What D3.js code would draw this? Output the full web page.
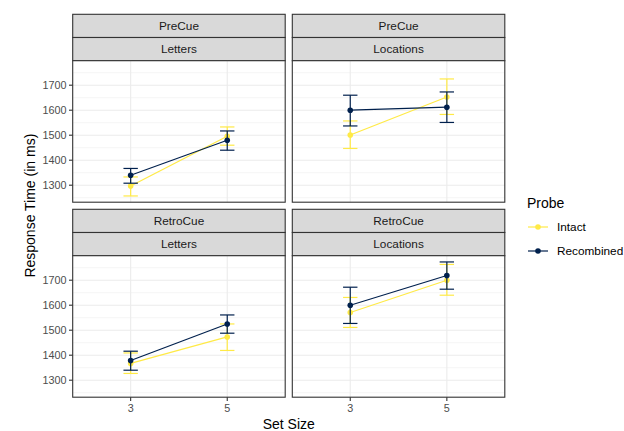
<!DOCTYPE html>
<html>
<head>
<meta charset="utf-8">
<script src="https://cdn.jsdelivr.net/npm/d3@7"></script>
<style>
  body { margin: 0; background: #fff; }
  text { font-family: "Liberation Sans", Arial, sans-serif; }
</style>
</head>
<body>
<div id="chart"></div>
<script>
// data
const cues = ["PreCue", "RetroCue"];
const stimuli = ["Letters", "Locations"];
const setSizes = ["3", "5"];
const probes = ["Intact", "Recombined"];
const yTicks = [1300, 1400, 1500, 1600, 1700];

// rows: cue, stimulus, probe, set size, mean, lower, upper
const means = [
  ["PreCue", "Letters", "Intact", "3", 1297, 1257, 1333],
  ["PreCue", "Letters", "Intact", "5", 1496, 1460, 1533],
  ["PreCue", "Letters", "Recombined", "3", 1340, 1308, 1367],
  ["PreCue", "Letters", "Recombined", "5", 1480, 1440, 1517],
  ["PreCue", "Locations", "Intact", "3", 1501, 1447, 1557],
  ["PreCue", "Locations", "Intact", "5", 1653, 1583, 1725],
  ["PreCue", "Locations", "Recombined", "3", 1600, 1537, 1660],
  ["PreCue", "Locations", "Recombined", "5", 1612, 1551, 1673],
  ["RetroCue", "Letters", "Intact", "3", 1367, 1327, 1409],
  ["RetroCue", "Letters", "Intact", "5", 1473, 1419, 1525],
  ["RetroCue", "Letters", "Recombined", "3", 1379, 1340, 1416],
  ["RetroCue", "Letters", "Recombined", "5", 1525, 1488, 1561],
  ["RetroCue", "Locations", "Intact", "3", 1571, 1511, 1631],
  ["RetroCue", "Locations", "Intact", "5", 1700, 1640, 1763],
  ["RetroCue", "Locations", "Recombined", "3", 1600, 1527, 1672],
  ["RetroCue", "Locations", "Recombined", "5", 1719, 1664, 1773]
];

const probeColors = ["#FFEA46", "#00204D"];

const width = 624, height = 431;
const panelLeft = [72.7, 292.3];
const panelW = 212.5;
const stripTop = [14.3, 209.3];
const stripH = 23.2;
const panelH = 141.5;

const svg = d3.select("#chart").append("svg")
  .attr("width", width)
  .attr("height", height);

const x = d3.scalePoint().domain(setSizes).range([0, panelW]).padding(0.6);
const y = d3.scaleLinear().domain([1232, 1798]).range([panelH, 0]);
const colour = d3.scaleOrdinal().domain(probes).range(probeColors);

const minorTicks = [1250, 1350, 1450, 1550, 1650, 1750];

cues.forEach((cue, r) => {
  stimuli.forEach((stim, c) => {
    const g = svg.append("g")
      .attr("transform", `translate(${panelLeft[c]},${stripTop[r]})`);

    // strips
    [cue, stim].forEach((lab, k) => {
      g.append("rect")
        .attr("x", 0).attr("y", k * stripH)
        .attr("width", panelW).attr("height", stripH)
        .attr("fill", "#D9D9D9")
        .attr("stroke", "#333333").attr("stroke-width", 1.1);
      g.append("text")
        .attr("x", panelW / 2).attr("y", k * stripH + stripH / 2)
        .attr("dy", "0.35em")
        .attr("text-anchor", "middle")
        .attr("font-size", 11.8)
        .attr("fill", "#1A1A1A")
        .text(lab);
    });

    const p = g.append("g").attr("transform", `translate(0,${2 * stripH})`);

    p.append("rect")
      .attr("width", panelW).attr("height", panelH)
      .attr("fill", "#fff");

    p.selectAll(".minor").data(minorTicks).enter().append("line")
      .attr("x1", 0).attr("x2", panelW)
      .attr("y1", d => y(d)).attr("y2", d => y(d))
      .attr("stroke", "#EBEBEB").attr("stroke-width", 0.55);

    p.selectAll(".major").data(yTicks).enter().append("line")
      .attr("x1", 0).attr("x2", panelW)
      .attr("y1", d => y(d)).attr("y2", d => y(d))
      .attr("stroke", "#EBEBEB").attr("stroke-width", 1.1);

    p.selectAll(".vmajor").data(setSizes).enter().append("line")
      .attr("y1", 0).attr("y2", panelH)
      .attr("x1", d => x(d)).attr("x2", d => x(d))
      .attr("stroke", "#EBEBEB").attr("stroke-width", 1.1);

    const rows = means.filter(d => d[0] === cue && d[1] === stim);

    probes.forEach(pr => {
      const pts = rows.filter(d => d[2] === pr);
      const col = colour(pr);
      p.append("path")
        .datum(pts)
        .attr("fill", "none")
        .attr("stroke", col)
        .attr("stroke-width", 1.2)
        .attr("d", d3.line().x(d => x(d[3])).y(d => y(d[4])));

      const eb = p.selectAll(null).data(pts).enter().append("g")
        .attr("stroke", col).attr("stroke-width", 1.2);
      eb.append("line")
        .attr("x1", d => x(d[3])).attr("x2", d => x(d[3]))
        .attr("y1", d => y(d[5])).attr("y2", d => y(d[6]));
      eb.append("line")
        .attr("x1", d => x(d[3]) - 7.2).attr("x2", d => x(d[3]) + 7.2)
        .attr("y1", d => y(d[5])).attr("y2", d => y(d[5]));
      eb.append("line")
        .attr("x1", d => x(d[3]) - 7.2).attr("x2", d => x(d[3]) + 7.2)
        .attr("y1", d => y(d[6])).attr("y2", d => y(d[6]));

      p.selectAll(null).data(pts).enter().append("circle")
        .attr("cx", d => x(d[3])).attr("cy", d => y(d[4]))
        .attr("r", 2.8).attr("fill", col);
    });

    p.append("rect")
      .attr("width", panelW).attr("height", panelH)
      .attr("fill", "none")
      .attr("stroke", "#333333").attr("stroke-width", 1.1);

    // y axis on left column
    if (c === 0) {
      const ya = p.append("g");
      ya.selectAll("line").data(yTicks).enter().append("line")
        .attr("x1", -3.7).attr("x2", 0)
        .attr("y1", d => y(d)).attr("y2", d => y(d))
        .attr("stroke", "#333333").attr("stroke-width", 1.1);
      ya.selectAll("text").data(yTicks).enter().append("text")
        .attr("x", -6.2).attr("y", d => y(d))
        .attr("dy", "0.35em")
        .attr("text-anchor", "end")
        .attr("font-size", 10.8)
        .attr("fill", "#4D4D4D")
        .text(d => d);
    }
    // x axis on bottom row
    if (r === 1) {
      const xa = p.append("g").attr("transform", `translate(0,${panelH})`);
      xa.selectAll("line").data(setSizes).enter().append("line")
        .attr("x1", d => x(d)).attr("x2", d => x(d))
        .attr("y1", 0).attr("y2", 3.7)
        .attr("stroke", "#333333").attr("stroke-width", 1.1);
      xa.selectAll("text").data(setSizes).enter().append("text")
        .attr("x", d => x(d)).attr("y", 11.5)
        .attr("dy", "0.35em")
        .attr("text-anchor", "middle")
        .attr("font-size", 10.8)
        .attr("fill", "#4D4D4D")
        .text(d => d);
    }
  });
});

// axis titles
svg.append("text")
  .attr("x", (panelLeft[0] + panelLeft[1] + panelW) / 2)
  .attr("y", 424)
  .attr("dy", "0.35em")
  .attr("text-anchor", "middle")
  .attr("font-size", 14)
  .attr("fill", "#000")
  .text("Set Size");

svg.append("text")
  .attr("transform", `translate(30,${(14.3 + 397) / 2}) rotate(-90)`)
  .attr("dy", "0.35em")
  .attr("text-anchor", "middle")
  .attr("font-size", 14)
  .attr("fill", "#000")
  .text("Response Time (in ms)");

// legend
const leg = svg.append("g").attr("transform", "translate(527,0)");
leg.append("text")
  .attr("x", 0).attr("y", 203)
  .attr("dy", "0.35em")
  .attr("font-size", 14)
  .attr("fill", "#000")
  .text("Probe");

probes.forEach((pr, i) => {
  const cy = 227 + i * 24;
  leg.append("line")
    .attr("x1", 1).attr("x2", 21)
    .attr("y1", cy).attr("y2", cy)
    .attr("stroke", colour(pr)).attr("stroke-width", 1.2);
  leg.append("circle")
    .attr("cx", 11).attr("cy", cy).attr("r", 2.8)
    .attr("fill", colour(pr));
  leg.append("text")
    .attr("x", 30).attr("y", cy)
    .attr("dy", "0.35em")
    .attr("font-size", 11.8)
    .attr("fill", "#000")
    .text(pr);
});
</script>
</body>
</html>
